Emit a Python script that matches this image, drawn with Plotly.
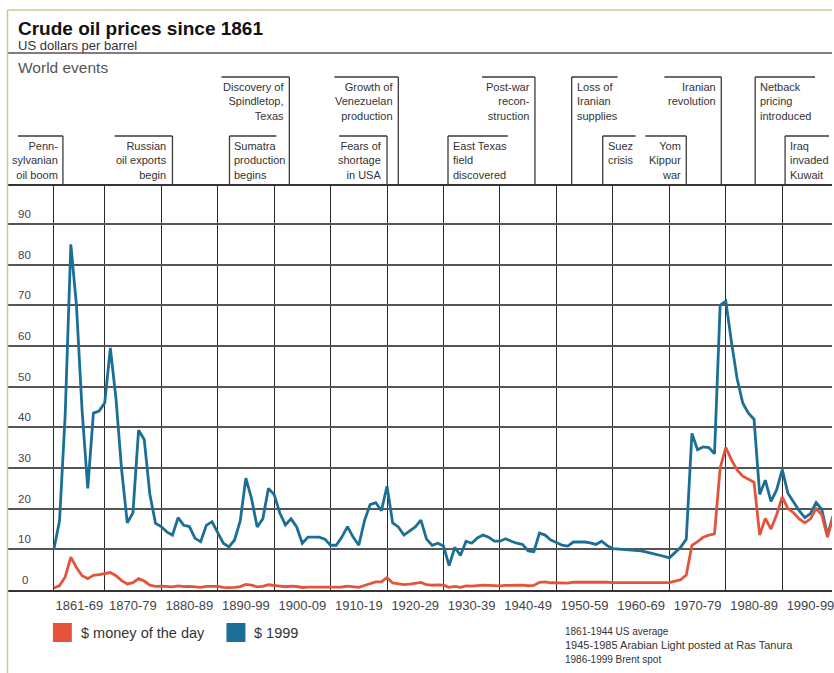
import plotly.graph_objects as go

# ---------------- data ----------------
years = list(range(1861, 2000))

money_of_the_day = (
    [0.5, 1.1, 3.2, 8.1, 5.5, 3.5, 2.8, 3.6, 3.8]                       # 1861-69
    + [4.0, 4.3, 3.5, 2.3, 1.5, 1.8, 2.8, 2.2, 1.2, 0.9]                # 1870-79
    + [0.95, 0.86, 0.78, 1.0, 0.84, 0.88, 0.71, 0.67, 0.88, 0.94]       # 1880-89
    + [0.87, 0.67, 0.56, 0.64, 0.84, 1.36, 1.18, 0.79, 0.91, 1.29]      # 1890-99
    + [1.19, 0.96, 0.8, 0.94, 0.86, 0.62, 0.73, 0.72, 0.72, 0.7]        # 1900-09
    + [0.61, 0.61, 0.74, 0.95, 0.81, 0.64, 1.1, 1.56, 1.98, 2.01]       # 1910-19
    + [3.07, 1.73, 1.61, 1.34, 1.43, 1.68, 1.88, 1.3, 1.17, 1.27]       # 1920-29
    + [1.19, 0.65, 0.87, 0.67, 1.0, 0.97, 1.09, 1.18, 1.13, 1.02]       # 1930-39
    + [1.02, 1.14, 1.19, 1.2, 1.21, 1.05, 1.12, 1.9, 1.99, 1.78]        # 1940-49
    + [1.71, 1.71, 1.71, 1.93, 1.93, 1.93, 1.93, 1.9, 2.08, 1.9]        # 1950-59
    + [1.8, 1.8, 1.8, 1.8, 1.8, 1.8, 1.8, 1.8, 1.8, 1.8]                # 1960-69
    + [1.8, 2.2, 2.5, 3.7, 11.0, 11.9, 13.0, 13.5, 13.8, 30.0]          # 1970-79
    + [35.0, 32.0, 29.5, 28.0, 27.3, 26.5, 13.5, 17.6, 15.0, 18.5]      # 1980-89
    + [22.9, 20.0, 19.0, 17.5, 16.5, 17.5, 20.0, 18.5, 13.0, 18.0]      # 1990-99
)

dollars_1999 = (
    [10, 17, 43, 85, 70, 44, 25, 43.5, 44]                              # 1861-69
    + [46, 59.5, 47, 29.5, 16.5, 19, 39.3, 37, 23.5, 16.4]              # 1870-79
    + [15.6, 14.3, 13.5, 17.8, 15.9, 15.6, 12.7, 11.9, 15.9, 16.8]      # 1880-89
    + [14.3, 11.5, 10.6, 12.3, 17, 27.5, 22.5, 15.5, 17.5, 25]          # 1890-99
    + [23.5, 19, 16, 17.5, 15.5, 11.5, 13, 13, 13, 12.5]                # 1900-09
    + [11, 11, 13, 15.6, 13, 11, 17, 21, 21.5, 19.5]                    # 1910-19
    + [25.5, 16.5, 15.5, 13.5, 14.5, 15.5, 17.2, 12.5, 11, 11.5]        # 1920-29
    + [10.8, 6, 10.5, 8.5, 12, 11.5, 12.8, 13.5, 13, 12]                # 1930-39
    + [12, 12.6, 12, 11.5, 11.2, 9.6, 9.4, 14, 13.5, 12.3]              # 1940-49
    + [11.7, 11, 10.8, 11.8, 11.8, 11.8, 11.6, 11.2, 12, 10.9]          # 1950-59
    + [10.2, 10.1, 10, 9.8, 9.7, 9.6, 9.3, 9.0, 8.7, 8.3]               # 1960-69
    + [7.9, 9.2, 10.5, 12.5, 38.5, 34.5, 35.2, 35, 33.5, 70]            # 1970-79
    + [71, 61, 52, 46, 43.5, 42, 23.5, 27, 21.8, 24.6]                  # 1980-89
    + [29.6, 23.8, 21.5, 19.5, 17.8, 18.8, 21.5, 19.8, 13.5, 18.2]      # 1990-99
)

decade_gridlines = [1861, 1870, 1880, 1890, 1900, 1910, 1920, 1930,
                    1940, 1950, 1960, 1970, 1980, 1990]
decade_label_pos = [1865.5, 1875, 1885, 1895, 1905, 1915, 1925, 1935,
                    1945, 1955, 1965, 1975, 1985, 1995]
decade_labels = ["1861-69", "1870-79", "1880-89", "1890-99", "1900-09",
                 "1910-19", "1920-29", "1930-39", "1940-49", "1950-59",
                 "1960-69", "1970-79", "1980-89", "1990-99"]

y_ticks = [0, 10, 20, 30, 40, 50, 60, 70, 80, 90]
y_tick_labels = ["0", "10", "20", "30", "40", "50", "60", "70", "80", "90"]

event_labels = [
    "Penn-<br>sylvanian<br>oil boom",
    "Russian<br>oil exports<br>begin",
    "Sumatra<br>production<br>begins",
    "Discovery of<br>Spindletop,<br>Texas",
    "Fears of<br>shortage<br>in USA",
    "Growth of<br>Venezuelan<br>production",
    "East Texas<br>field<br>discovered",
    "Post-war<br>recon-<br>struction",
    "Loss of<br>Iranian<br>supplies",
    "Suez<br>crisis",
    "Yom<br>Kippur<br>war",
    "Iranian<br>revolution",
    "Netback<br>pricing<br>introduced",
    "Iraq<br>invaded<br>Kuwait",
]
event_years = [1862.6, 1882.0, 1892.1, 1902.7, 1920.0, 1922.0, 1930.8,
               1946.2, 1952.7, 1958.2, 1973.0, 1979.2, 1985.2, 1990.5]

legend_labels = ["$ money of the day", "$ 1999"]
footnotes = ["1861-1944 US average",
             "1945-1985 Arabian Light posted at Ras Tanura",
             "1986-1999 Brent spot"]

# ---------------- layout helpers (positions / styles) ----------------
W, H = 834, 673
ML, MR, MT, MB = 8, 0, 186, 83
PW, PH = W - ML - MR, H - MT - MB
PPY = 5.66                       # pixels per year
X0 = 1861 - (54 - ML) / PPY
X1 = X0 + PW / PPY
Y1 = PH / 4.067

RED = "#E4533C"
BLUE = "#1B6F97"
FONT = "Liberation Sans, Arial, Helvetica, sans-serif"
TXT = "#333333"

event_row = ["low", "low", "low", "high", "low", "high", "low",
             "high", "high", "low", "low", "high", "high", "low"]
event_side = ["r", "r", "l", "r", "r", "r", "l",
              "r", "l", "l", "r", "r", "l", "l"]
event_width_px = [45, 58, 47, 68, 48, 64, 60, 53, 46, 33, 41, 57, 60, 44]
footnote_sizes = [10, 11, 10]


def py(ypx):
    return (H - MB - ypx) / PH


def px(xpx):
    return (xpx - ML) / PW


row_top = {"high": py(77), "low": py(136)}

fig = go.Figure()
fig.add_trace(go.Scatter(x=years, y=dollars_1999, mode="lines",
                         line=dict(color=BLUE, width=2.8), name=legend_labels[1]))
fig.add_trace(go.Scatter(x=years, y=money_of_the_day, mode="lines",
                         line=dict(color=RED, width=2.8), name=legend_labels[0]))

shapes = []
annotations = []

# event brackets
for lab, yr, row, side, wpx in zip(event_labels, event_years, event_row,
                                   event_side, event_width_px):
    top = row_top[row]
    w = wpx / PPY
    shapes.append(dict(type="line", xref="x", yref="paper", x0=yr, x1=yr,
                       y0=top, y1=1.0, line=dict(color="#3a3a3a", width=1.3)))
    if side == "r":
        shapes.append(dict(type="line", xref="x", yref="paper", x0=yr - w, x1=yr,
                           y0=top, y1=top, line=dict(color="#3a3a3a", width=1.3)))
        annotations.append(dict(x=yr, xref="x", y=top, yref="paper", text=lab,
                                xanchor="right", yanchor="top", align="right",
                                xshift=-3, yshift=-2, showarrow=False,
                                font=dict(size=11, color=TXT, family=FONT)))
    else:
        shapes.append(dict(type="line", xref="x", yref="paper", x0=yr, x1=yr + w,
                           y0=top, y1=top, line=dict(color="#3a3a3a", width=1.3)))
        annotations.append(dict(x=yr, xref="x", y=top, yref="paper", text=lab,
                                xanchor="left", yanchor="top", align="left",
                                xshift=3, yshift=-2, showarrow=False,
                                font=dict(size=11, color=TXT, family=FONT)))

# y tick labels sitting above the grid lines
for v, t in zip(y_ticks, y_tick_labels):
    annotations.append(dict(x=px(25), xref="paper", y=v, yref="y", text=t,
                            xanchor="center", yanchor="middle", yshift=10,
                            showarrow=False, font=dict(size=11.5, color="#444", family=FONT)))

# title block
annotations += [
    dict(x=px(16), xref="paper", y=py(28), yref="paper", xanchor="left", yanchor="middle",
         text="<b>Crude oil prices since 1861</b>", showarrow=False,
         font=dict(size=19, color="#111", family=FONT)),
    dict(x=px(16), xref="paper", y=py(46), yref="paper", xanchor="left", yanchor="middle",
         text="US dollars per barrel", showarrow=False,
         font=dict(size=13, color=TXT, family=FONT)),
    dict(x=px(16), xref="paper", y=py(68), yref="paper", xanchor="left", yanchor="middle",
         text="World events", showarrow=False,
         font=dict(size=15.5, color="#555", family=FONT)),
]
shapes.append(dict(type="line", xref="paper", yref="paper", x0=0, x1=1,
                   y0=py(53), y1=py(53), line=dict(color="#555", width=1.3)))

# border (top / left)
shapes.append(dict(type="line", xref="paper", yref="paper", x0=px(7.5), x1=1,
                   y0=py(10), y1=py(10), line=dict(color="#c5cb93", width=1.5)))
shapes.append(dict(type="line", xref="paper", yref="paper", x0=px(7.5), x1=px(7.5),
                   y0=py(10), y1=py(673), line=dict(color="#c5cb93", width=1.5)))

# legend
for i, (lab, col) in enumerate(zip(legend_labels, [RED, BLUE])):
    x0 = [53, 227][i]
    shapes.append(dict(type="rect", xref="paper", yref="paper",
                       x0=px(x0), x1=px(x0 + 19), y0=py(642), y1=py(623),
                       fillcolor=col, line=dict(width=0)))
    annotations.append(dict(x=px(x0 + 26), xref="paper", y=py(633), yref="paper",
                            xanchor="left", yanchor="middle", text=lab, showarrow=False,
                            font=dict(size=14.5, color=TXT, family=FONT)))

# footnotes
for i, (t, fs) in enumerate(zip(footnotes, footnote_sizes)):
    annotations.append(dict(x=px(564), xref="paper", y=py(631 + 14 * i), yref="paper",
                            xanchor="left", yanchor="middle", text=t, showarrow=False,
                            font=dict(size=fs, color=TXT, family=FONT)))

fig.update_layout(
    width=W, height=H,
    margin=dict(l=ML, r=MR, t=MT, b=MB),
    paper_bgcolor="white", plot_bgcolor="white",
    showlegend=False,
    shapes=shapes, annotations=annotations,
    xaxis=dict(range=[X0, X1], tickvals=decade_label_pos, ticktext=decade_labels,
               ticks="", showgrid=False, zeroline=False, ticklabelstandoff=3,
               ticklabeloverflow="allow",
               showline=True, linecolor="#333", linewidth=1.5, mirror=True,
               tickfont=dict(size=13, color="#444", family=FONT),
               minor=dict(tickvals=decade_gridlines, showgrid=True,
                          gridcolor="#2a2a2a", gridwidth=1.1, ticks="")),
    yaxis=dict(range=[0, Y1], tickvals=y_ticks, showticklabels=False, ticks="",
               showgrid=True, gridcolor="#555", gridwidth=1.6, zeroline=False,
               showline=False),
)

fig.write_html("out.html", config={"displayModeBar": False},
               post_script="document.body.style.margin='0';"
                           "document.body.style.overflow='hidden';")
